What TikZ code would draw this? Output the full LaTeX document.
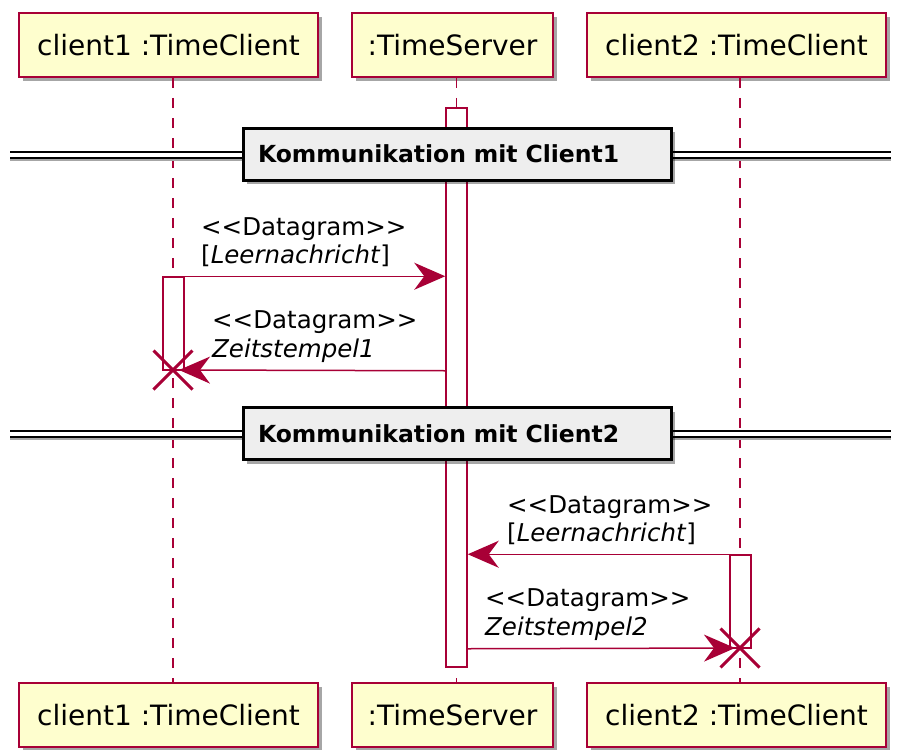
\documentclass[tikz,border=0pt]{standalone}
\usepackage{fontspec}
\setmainfont{DejaVu Sans}
\usetikzlibrary{arrows.meta,shadows,shapes.misc}
\definecolor{umlred}{HTML}{A80036}
\definecolor{umlfill}{HTML}{FEFECE}
\definecolor{divfill}{HTML}{EEEEEE}
\begin{document}
\begin{tikzpicture}[x=1pt,y=-1pt,
  participant/.style={draw=umlred, line width=2pt, fill=umlfill, minimum height=64pt,
    inner sep=0pt, font=\fontsize{28}{32}\selectfont,
    drop shadow={shadow xshift=4pt, shadow yshift=-4pt, fill=black, opacity=0.35}},
  lifeline/.style={draw=umlred, line width=1.5pt, dash pattern=on 10pt off 10pt},
  activation/.style={draw=umlred, line width=1.5pt, fill=white, minimum width=21pt, inner sep=0pt},
  divline/.style={draw=black, line width=1.6pt, double=white, double distance=4pt},
  divshadow/.style={draw=black!35, line width=2pt},
  divbox/.style={draw=black, line width=3pt, fill=divfill, minimum width=428pt, minimum height=52pt,
    inner xsep=15pt, inner ysep=0pt, text width=398pt, align=left,
    font=\fontsize{23.5}{28}\selectfont\bfseries,
    drop shadow={shadow xshift=4pt, shadow yshift=-4pt, fill=black, opacity=0.35}},
  msg/.style={draw=umlred, line width=1.5pt, -{Stealth[length=31pt, width=27pt, inset=10pt]}},
  lbl/.style={anchor=base west, inner sep=0pt, font=\fontsize{24.5}{28}\selectfont},
  destroy/.style={cross out, draw=umlred, line width=3pt, minimum size=36pt, inner sep=0pt}
]
\useasboundingbox (0,0) rectangle (901,749);

% participants
\node[participant, minimum width=299pt] (c1top) at (168.5,45) {client1 :TimeClient};
\node[participant, minimum width=201pt] (stop)  at (452.5,45) {:TimeServer};
\node[participant, minimum width=299pt] (c2top) at (736.5,45) {client2 :TimeClient};
\node[participant, minimum width=299pt] (c1bot) at (168.5,715) {client1 :TimeClient};
\node[participant, minimum width=201pt] (sbot)  at (452.5,715) {:TimeServer};
\node[participant, minimum width=299pt] (c2bot) at (736.5,715) {client2 :TimeClient};

% lifelines
\coordinate (L1) at (173,0);
\coordinate (LS) at (456.5,0);
\coordinate (L2) at (740,0);
\draw[lifeline] (c1top.south -| L1) -- (c1bot.north -| L1);
\draw[lifeline] (stop.south -| LS) -- (sbot.north -| LS);
\draw[lifeline] (c2top.south -| L2) -- (c2bot.north -| L2);

% activations
\node[activation, minimum height=559pt] (sact) at (456.5,387.5) {};
\node[activation, minimum height=93pt] (a1) at (173.5,323.5) {};
\node[activation, minimum height=93pt] (a2) at (740.5,601.5) {};

% dividers
\coordinate (d1l) at (10,155);
\coordinate (d1r) at (891,155);
\coordinate (d2l) at (10,434);
\coordinate (d2r) at (891,434);
\draw[divshadow] ([yshift=-5pt]d1l) -- ([yshift=-5pt]d1r);
\draw[divline] (d1l) -- (d1r);
\draw[divshadow] ([yshift=-5pt]d2l) -- ([yshift=-5pt]d2r);
\draw[divline] (d2l) -- (d2r);
\node[divbox] (d1) at (457,154) {Kommunikation mit Client1};
\node[divbox] (d2) at (457,433.5) {Kommunikation mit Client2};

% destroy marks
\node[destroy] (x1) at (173,370) {};
\node[destroy] (x2) at (740,648) {};

% messages
\draw[msg] (a1.north east) -- (sact.west |- a1.north east);
\draw[msg] (sact.west |- a1.south) -- ([xshift=6pt]x1.center);
\draw[msg] (a2.north west) -- (sact.east |- a2.north west);
\draw[msg] (sact.east |- a2.south) -- ([xshift=-5pt]x2.center);

% labels
\node[lbl] (m1a) at (201,235) {<\kern0pt<Datagram>\kern0pt>};
\node[lbl] (m1b) at (201,263) {[\textit{Leernachricht}]};
\node[lbl] (m2a) at (212,328) {<\kern0pt<Datagram>\kern0pt>};
\node[lbl] (m2b) at (212,357) {\textit{Zeitstempel1}};
\node[lbl] (m3a) at (507,513) {<\kern0pt<Datagram>\kern0pt>};
\node[lbl] (m3b) at (507,541) {[\textit{Leernachricht}]};
\node[lbl] (m4a) at (485,606) {<\kern0pt<Datagram>\kern0pt>};
\node[lbl] (m4b) at (485,635) {\textit{Zeitstempel2}};
\end{tikzpicture}
\end{document}
